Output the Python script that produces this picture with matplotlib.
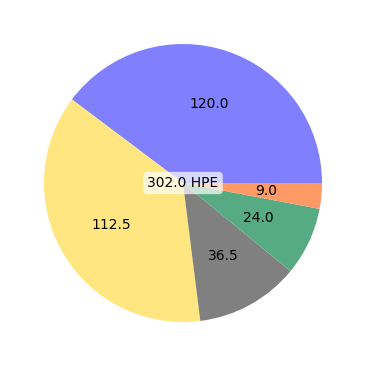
import matplotlib
matplotlib.use("Agg")
import matplotlib.pyplot as plt

categories = ["A", "B", "C", "D", "E"]
values = [120.0, 112.5, 36.5, 24.0, 9.0]
colors = ["#8080ff", "#ffe680", "#808080", "#57ab82", "#ff9966"]
total_label = "302.0 HPE"

fig = plt.figure(figsize=(3.66, 3.66), dpi=100)
ax = fig.add_axes([0, 0, 1, 1])
total = sum(values)
ax.pie(values, colors=colors, autopct=lambda p: f"{p*total/100:.1f}",
       pctdistance=0.6, startangle=0, textprops={"fontsize": 10})
ax.text(0, 0, total_label, ha="center", va="center", fontsize=10,
        bbox=dict(boxstyle="round,pad=0.3", facecolor="white", edgecolor="none", alpha=0.7))
lim = 183 / 139
ax.set_xlim(-lim, 366 / 139 - lim)
ax.set_ylim(-lim, 366 / 139 - lim)
ax.set_aspect("equal")
ax.axis("off")
fig.savefig("out.png", dpi=100)
